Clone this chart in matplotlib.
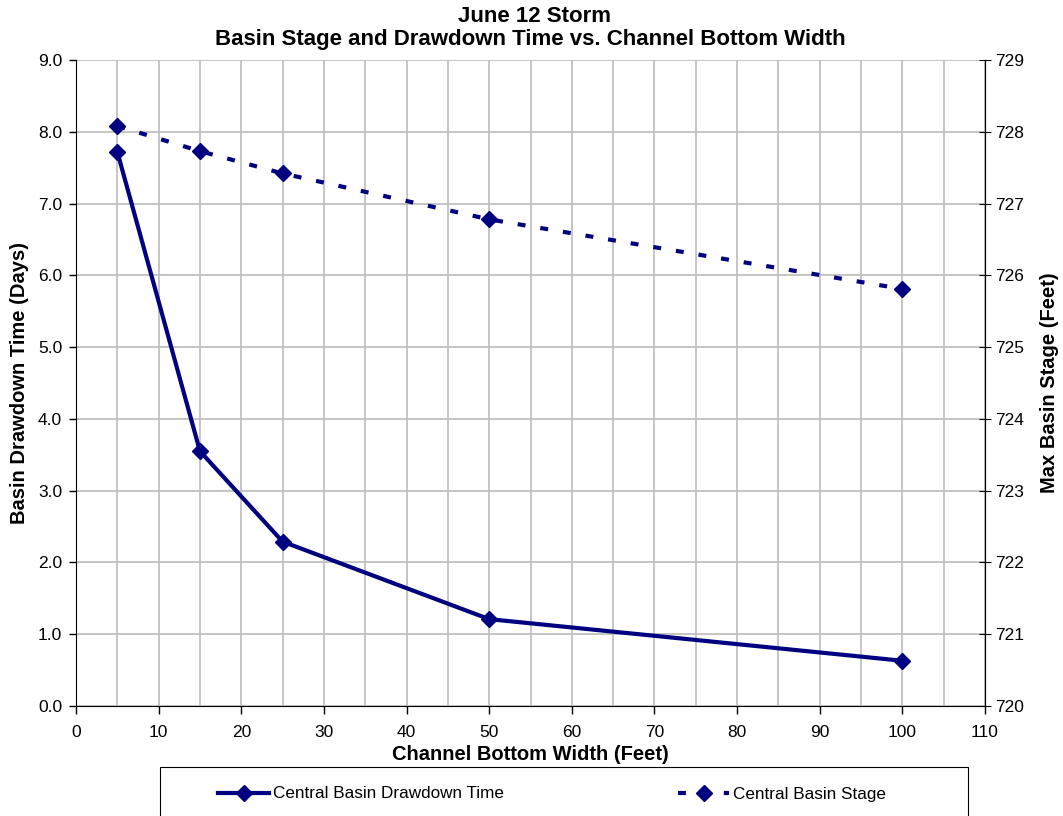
import matplotlib.pyplot as plt
from matplotlib.ticker import MultipleLocator
from matplotlib.patches import Rectangle

plt.rcParams['font.family'] = ['Liberation Sans', 'DejaVu Sans']

# channel bottom width (feet)
width = [5, 15, 25, 50, 100]
# basin drawdown time (days)
drawdown = [7.72, 3.55, 2.29, 1.21, 0.63]
# max basin stage (feet)
stage = [728.08, 727.73, 727.42, 726.78, 725.81]

navy = '#000080'
W, H = 1063, 816

fig = plt.figure(figsize=(W / 100, H / 100), dpi=100)
ax = fig.add_axes([76 / W, 1 - 706 / H, (985 - 76) / W, (706 - 60) / H])
ax2 = ax.twinx()

l1, = ax.plot(width, drawdown, color=navy, lw=3.0, marker='D', ms=8,
              label='Central Basin Drawdown Time')
l2, = ax2.plot(width, stage, color=navy, lw=3.0, ls=(0, (1.9, 3.6)), marker='D', ms=8,
               dash_capstyle='butt', label='Central Basin Stage')

ax.set_xlim(0, 110)
ax.set_ylim(0, 9)
ax2.set_ylim(720, 729)
ax.xaxis.set_major_locator(MultipleLocator(10))
ax.xaxis.set_minor_locator(MultipleLocator(5))
ax.yaxis.set_major_locator(MultipleLocator(1))
ax2.yaxis.set_major_locator(MultipleLocator(1))
ax.yaxis.set_major_formatter(lambda v, p: f'{v:.1f}')

ax.grid(True, which='both', axis='x', color='#c0c0c0', lw=1.3)
ax.grid(True, which='major', axis='y', color='#c0c0c0', lw=1.3)
ax.set_axisbelow(True)
ax.tick_params(axis='x', which='minor', length=0)
ax.tick_params(axis='both', which='major', labelsize=12.5, direction='out',
               length=5, width=1, color='black')
ax.tick_params(axis='x', length=6, pad=8)
ax.tick_params(axis='y', pad=5)
ax2.tick_params(axis='y', labelsize=12.5, direction='inout', length=9, pad=3)

for a in (ax, ax2):
    a.spines['top'].set_visible(False)
ax2.spines['left'].set_visible(False)
ax2.spines['bottom'].set_visible(False)

ax.set_xlabel('Channel Bottom Width (Feet)', fontsize=14.5, fontweight='bold', va='top')
ax.xaxis.set_label_coords(0.5, (706 - 745) / 646)
ax.set_ylabel('Basin Drawdown Time (Days)', fontsize=14.5, fontweight='bold', va='center')
ax.yaxis.set_label_coords((20 - 76) / 909, 0.5)
ax2.set_ylabel('Max Basin Stage (Feet)', fontsize=14.5, fontweight='bold', va='center')
ax2.yaxis.set_label_coords((1049 - 76) / 909, 0.5)

fig.text(535 / W, 1 - 22 / H, 'June 12 Storm', ha='center', va='baseline',
         fontsize=16, fontweight='bold')
fig.text(530 / W, 1 - 45 / H, 'Basin Stage and Drawdown Time vs. Channel Bottom Width',
         ha='center', va='baseline', fontsize=16, fontweight='bold')

# legend box, cut off by the bottom edge like the original
fig.add_artist(Rectangle((160 / W, -0.02), (968 - 160) / W, 0.02 + 1 - 767 / H,
                         transform=fig.transFigure, fill=False, edgecolor='black', lw=0.8))
fig.legend(handles=[l1, l2], loc='center left', ncol=2, frameon=False,
           bbox_to_anchor=(218 / W, 1 - 794 / H), fontsize=12.3,
           handlelength=3.0, handletextpad=0.2, columnspacing=10.2,
           borderaxespad=0, borderpad=0)

fig.savefig('out.png', dpi=100)
